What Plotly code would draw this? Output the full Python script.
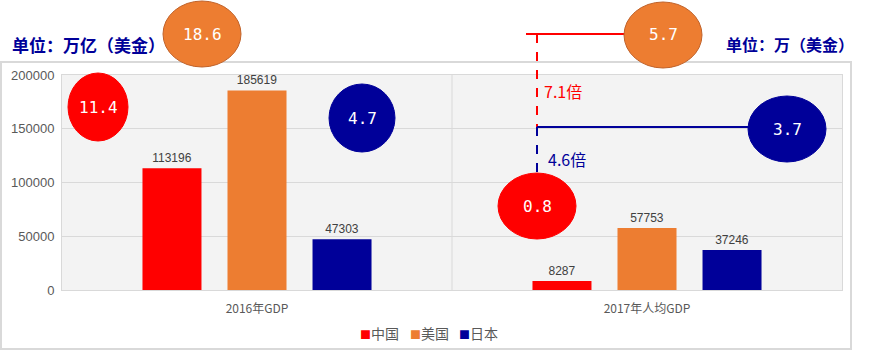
import plotly.graph_objects as go

categories = ["2016年GDP", "2017年人均GDP"]
series_names = ["中国", "美国", "日本"]
china = [113196, 8287]
usa = [185619, 57753]
japan = [47303, 37246]
colors = ["#FF0000", "#ED7D31", "#000099"]

bubble_labels = ["18.6", "11.4", "4.7", "0.8", "5.7", "3.7"]
ratio_labels = ["7.1倍", "4.6倍"]
unit_left = "单位：万亿（美金）"
unit_right = "单位：万（美金）"

W, H = 873, 350
L, R, T, B = 62, 31, 75, 60
PW, PH = W - L - R, H - T - B


def px(x):
    return (x - L) / PW


def py(y):
    return (T + PH - y) / PH


fig = go.Figure()
for name, vals, col in zip(series_names, [china, usa, japan], colors):
    fig.add_trace(go.Bar(
        x=categories, y=vals, name=name, marker=dict(color=col, line=dict(width=0)),
        text=[str(v) for v in vals], textposition="outside",
        textfont=dict(size=12, color="#404040", family="Liberation Sans"),
        cliponaxis=False, showlegend=False,
    ))

shapes = []
# outer chart border
shapes.append(dict(type="rect", xref="paper", yref="paper", x0=px(1), x1=px(851), y0=py(62), y1=py(349),
                   line=dict(color="#d9d9d9", width=2), fillcolor="rgba(0,0,0,0)", layer="below"))
# category separator
shapes.append(dict(type="line", xref="paper", yref="paper", x0=0.5, x1=0.5, y0=0, y1=1,
                   line=dict(color="#d9d9d9", width=1), layer="below"))

# connector lines
red, navy, orange = colors[0], colors[2], colors[1]
shapes.append(dict(type="line", xref="paper", yref="paper", x0=px(526), x1=px(630), y0=py(34), y1=py(34),
                   line=dict(color=red, width=2)))
shapes.append(dict(type="line", xref="paper", yref="paper", x0=px(537), x1=px(537), y0=py(34), y1=py(127),
                   line=dict(color=red, width=2, dash="dash")))
shapes.append(dict(type="line", xref="paper", yref="paper", x0=px(537), x1=px(760), y0=py(127), y1=py(127),
                   line=dict(color=navy, width=2)))
shapes.append(dict(type="line", xref="paper", yref="paper", x0=px(537), x1=px(537), y0=py(127), y1=py(180),
                   line=dict(color=navy, width=2, dash="dash")))

ellipses = [
    (202, 34, 39, 33, orange, "#c0622a"),
    (98, 107, 30, 34, red, red),
    (362, 118, 33, 34, navy, navy),
    (537, 206, 39, 33, red, red),
    (663, 35, 39, 33, orange, "#c0622a"),
    (787, 129, 39, 33, navy, navy),
]
annotations = []
for (cx, cy, rx, ry, fc, lc), lab in zip(ellipses, bubble_labels):
    shapes.append(dict(type="circle", xref="paper", yref="paper", x0=px(cx - rx), x1=px(cx + rx),
                       y0=py(cy - ry), y1=py(cy + ry), fillcolor=fc, line=dict(color=lc, width=1), layer="above"))
    annotations.append(dict(xref="paper", yref="paper", x=px(cx), y=py(cy), text=lab, showarrow=False,
                            xanchor="center", yanchor="middle",
                            font=dict(size=16, color="white", family="DejaVu Sans Mono")))

annotations.append(dict(xref="paper", yref="paper", x=px(542), y=py(91), text=ratio_labels[0], showarrow=False,
                        xanchor="left", yanchor="middle", font=dict(size=16, color=red, family="Noto Sans CJK SC")))
annotations.append(dict(xref="paper", yref="paper", x=px(546), y=py(159), text=ratio_labels[1], showarrow=False,
                        xanchor="left", yanchor="middle", font=dict(size=16, color=navy, family="Noto Sans CJK SC")))
annotations.append(dict(xref="paper", yref="paper", x=px(10), y=py(44), text="<b>" + unit_left + "</b>", showarrow=False,
                        xanchor="left", yanchor="middle", font=dict(size=17, color=navy, family="Noto Sans CJK SC")))
annotations.append(dict(xref="paper", yref="paper", x=px(856), y=py(44), text="<b>" + unit_right + "</b>", showarrow=False,
                        xanchor="right", yanchor="middle", font=dict(size=16, color=navy, family="Noto Sans CJK SC")))

# legend drawn as text entries
legend_x = [358, 408, 457]
for name, col, lx in zip(series_names, colors, legend_x):
    annotations.append(dict(xref="paper", yref="paper", x=px(lx), y=py(333),
                            text=f'<span style="color:{col};font-size:11px">■</span>{name}', showarrow=False,
                            xanchor="left", yanchor="middle",
                            font=dict(size=14, color="#595959", family="Noto Sans CJK SC")))

fig.update_layout(
    width=W, height=H, margin=dict(l=L, r=R, t=T, b=B, autoexpand=False),
    paper_bgcolor="white", plot_bgcolor="#f3f3f3",
    barmode="group", bargap=0.346, bargroupgap=0.306,
    shapes=shapes, annotations=annotations, showlegend=False,
    xaxis=dict(type="category", showgrid=False, showline=True, linecolor="#d9d9d9", mirror=True,
               tickfont=dict(size=12, color="#595959", family="Noto Sans CJK SC"), ticks="",
               ticklabelstandoff=8),
    yaxis=dict(range=[0, 200000], tickvals=[0, 50000, 100000, 150000, 200000], tickformat="d",
               showgrid=True, gridcolor="#d9d9d9", showline=True, linecolor="#d9d9d9", mirror=True,
               zeroline=False, tickfont=dict(size=13, color="#595959", family="Liberation Sans"), ticks="",
               ticklabelstandoff=4),
)

fig.write_html("out.html")
